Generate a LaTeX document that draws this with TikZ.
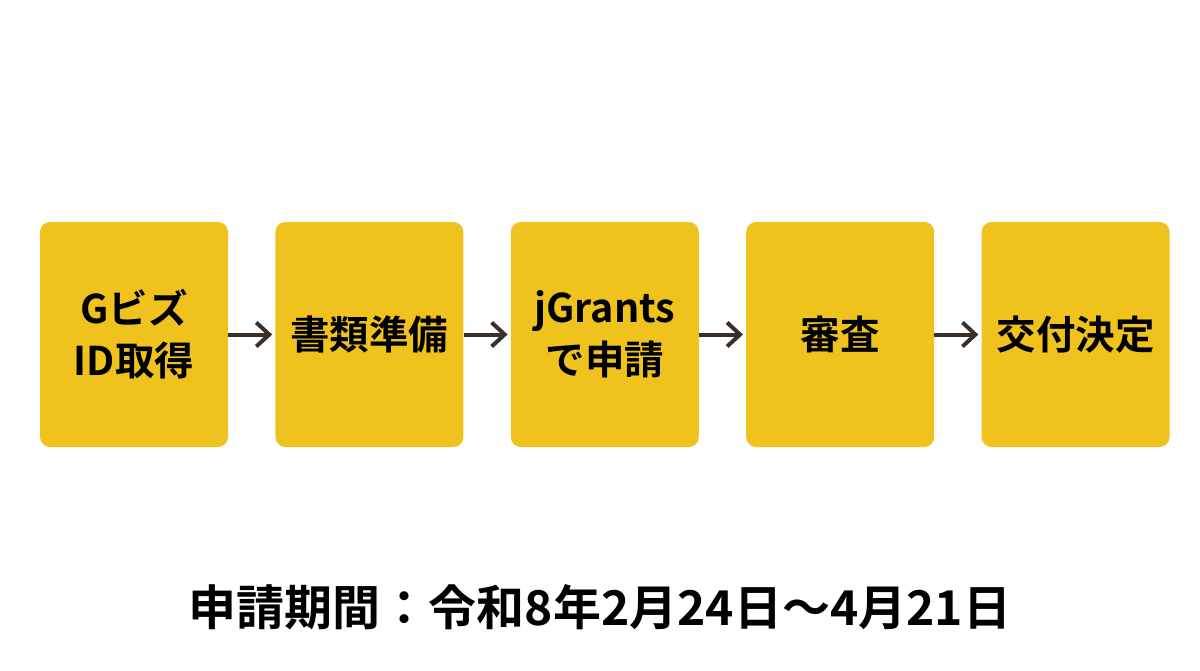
\documentclass[tikz,border=0pt]{standalone}
\usepackage{fontspec}
\setmainfont{Noto Sans CJK JP}[BoldFont={Noto Sans CJK JP Bold}]
\usepackage{xcolor}
\usetikzlibrary{positioning, arrows.meta}
\definecolor{stepyellow}{RGB}{240,194,30}
\definecolor{arrowbrown}{RGB}{58,48,40}
\tikzset{
    stepbox/.style={rectangle, fill=stepyellow, rounded corners=10pt, minimum width=188pt, minimum height=225pt, align=center, inner sep=0pt, font=\fontsize{39.5}{52}\selectfont\bfseries},
    arrow/.style={-{Straight Barb[length=13pt, width=24pt, line width=4pt]}, line width=4pt, draw=arrowbrown, shorten >=3pt},
    period/.style={font=\fontsize{48}{58}\selectfont\bfseries}
}
\begin{document}
\begin{tikzpicture}[x=1pt, y=-1pt, node distance=47pt]
    \useasboundingbox (0,0) rectangle (1200,670);

    % --- STEPS ---
    \node[stepbox] (GBiz) at (134,334.5) {Gビズ\\ID取得};
    \node[stepbox, right=of GBiz] (Docs) {書類準備};
    \node[stepbox, right=of Docs] (Apply) {jGrants\\で申請};
    \node[stepbox, right=of Apply] (Review) {審査};
    \node[stepbox, right=of Review] (Grant) {交付決定};

    % Arrows between steps
    \draw[arrow] (GBiz) -- (Docs);
    \draw[arrow] (Docs) -- (Apply);
    \draw[arrow] (Apply) -- (Review);
    \draw[arrow] (Review) -- (Grant);

    % Application period
    \node[period] (Period) at (600,607) {申請期間：令和8年2月24日〜4月21日};
\end{tikzpicture}
\end{document}
